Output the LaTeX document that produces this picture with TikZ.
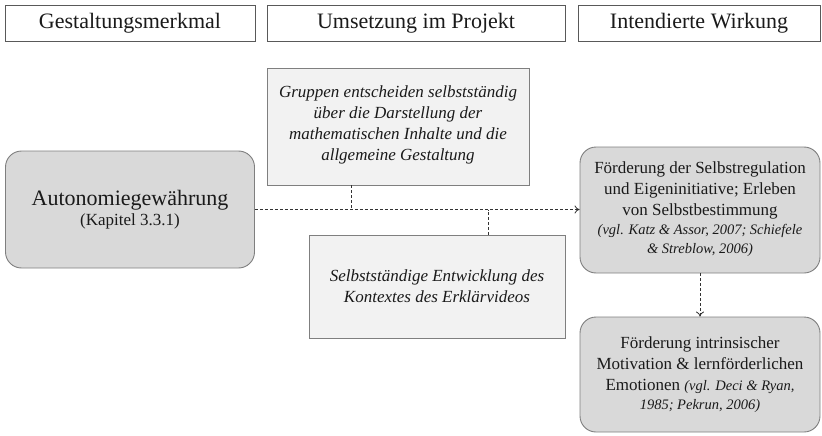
\documentclass[tikz,border=0pt]{standalone}
\usepackage{fontspec}
\setmainfont{Liberation Serif}
\usetikzlibrary{arrows.meta}
\definecolor{rfill}{HTML}{D9D9D9}
\definecolor{mfill}{HTML}{F2F2F2}
\definecolor{bord}{HTML}{7F7F7F}
\definecolor{hbord}{HTML}{595959}
\definecolor{txt}{HTML}{1A1A1A}
\begin{document}
\begin{tikzpicture}[x=1pt,y=-1pt,
  hdr/.style={draw=hbord,line width=0.9pt,fill=white,minimum height=36pt,inner sep=0pt,font=\fontsize{22}{24}\selectfont,text=txt},
  rbox/.style={draw=bord,line width=0.9pt,fill=rfill,rounded corners=16pt,inner sep=0pt,align=center,text=txt},
  mbox/.style={draw=bord,line width=0.9pt,fill=mfill,inner sep=0pt,align=center,text=txt,font=\fontsize{17}{21}\selectfont\itshape},
  conn/.style={densely dashed,line width=0.8pt,draw=black!80}]
\useasboundingbox (0,0) rectangle (822,436);
\node[hdr,minimum width=250pt] (h1) at (130,23) {Gestaltungsmerkmal};
\node[hdr,minimum width=298pt] (h2) at (416,23) {Umsetzung im Projekt};
\node[hdr,minimum width=242pt] (h3) at (699,23) {Intendierte Wirkung};

\node[rbox,minimum width=249pt,minimum height=117pt] (auto) at (130,209.5)
  {{\fontsize{22}{24}\selectfont Autonomiegewährung}\\[3pt]{\fontsize{17}{20}\selectfont (Kapitel 3.3.1)}};

\node[mbox,minimum width=262pt,minimum height=117pt,text depth=6pt] (m1) at (398,126.5)
  {Gruppen entscheiden selbstständig\\über die Darstellung der\\mathematischen Inhalte und die\\allgemeine Gestaltung};
\node[mbox,minimum width=256pt,minimum height=103pt] (m2) at (437,286.5)
  {Selbstständige Entwicklung des\\Kontextes des Erklärvideos};

\node[rbox,minimum width=240pt,minimum height=126pt,font=\fontsize{17}{21}\selectfont,text depth=5pt] (r1) at (700,210)
  {Förderung der Selbstregulation\\und Eigeninitiative; Erleben\\von Selbstbestimmung\\[-2pt]{\fontsize{14.5}{18}\selectfont\itshape (vgl. Katz \& Assor, 2007; Schiefele}\\[-2pt]{\fontsize{14.5}{18}\selectfont\itshape \& Streblow, 2006)}};
\node[rbox,minimum width=240pt,minimum height=115pt,font=\fontsize{17}{21}\selectfont] (r2) at (700,374.5)
  {Förderung intrinsischer\\Motivation \& lernförderlichen\\Emotionen {\fontsize{14.5}{18}\selectfont\itshape (vgl. Deci \& Ryan,}\\[-2pt]{\fontsize{14.5}{18}\selectfont\itshape 1985; Pekrun, 2006)}};

\coordinate (j1) at (351,209.5);
\coordinate (j2) at (488,209.5);
\draw[conn,-{To[length=5pt,width=8pt]}] (auto.east) -- (auto.east -| r1.west);
\draw[conn] (m1.south -| j1) -- (j1);
\draw[conn] (m2.north -| j2) -- (j2);
\draw[conn,-{To[length=5pt,width=8pt]}] (r1.south) -- (r2.north);
\end{tikzpicture}
\end{document}
